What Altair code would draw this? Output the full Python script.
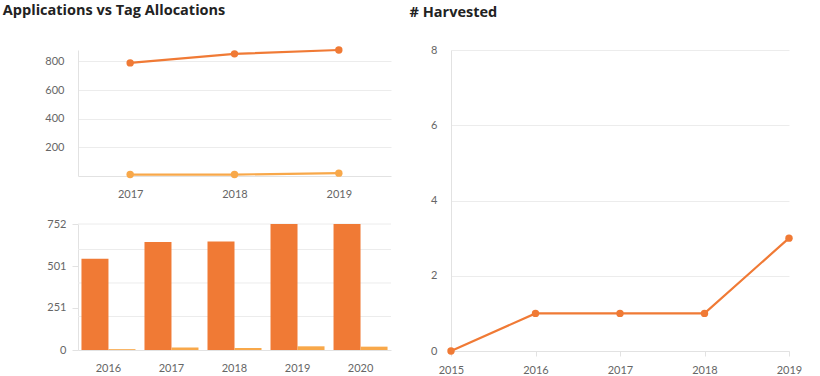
import altair as alt
import pandas as pd

DARK = "#F07A35"
LIGHT = "#F8A84A"
FONT = "Lato"
TITLE_FONT = "Open Sans"

# ---- data ----
series_names = ["Applications", "Tag Allocations"]

top_years = ["2017", "2018", "2019"]
top_applications = [790, 853, 880]
top_tags = [10, 10, 20]
top_ticks = [200, 400, 600, 800]

bar_years = ["2016", "2017", "2018", "2019", "2020"]
bar_applications = [545, 644, 648, 752, 752]
bar_tags = [5, 15, 12, 22, 20]
bar_ticks = [0, 251, 501, 752]
bar_grid = [200, 400, 600, 752]

harvest_years = ["2015", "2016", "2017", "2018", "2019"]
harvested = [0, 1, 1, 1, 3]
harvest_ticks = [0, 2, 4, 6, 8]

color = alt.Color(
    "series:N",
    scale=alt.Scale(domain=series_names, range=[DARK, LIGHT]),
    legend=None,
)

# ---- top-left: line chart ----
top_df = pd.DataFrame({
    "year": top_years * 2,
    "value": top_applications + top_tags,
    "series": [series_names[0]] * len(top_years) + [series_names[1]] * len(top_years),
})
top_base = alt.Chart(top_df).encode(
    x=alt.X("year:O", title=None,
            axis=alt.Axis(labelAngle=0, ticks=False, labelPadding=12)),
    y=alt.Y("value:Q", title=None,
            scale=alt.Scale(domain=[0, 880], nice=False, zero=True),
            axis=alt.Axis(values=top_ticks, ticks=False, labelPadding=14)),
    color=color,
    detail="series:N",
)
top_chart = alt.layer(
    top_base.mark_line(strokeWidth=2.2),
    top_base.mark_circle(size=55, opacity=1),
).properties(width=313, height=126)

# ---- bottom-left: grouped bars ----
bar_df = pd.DataFrame({
    "year": bar_years * 2,
    "value": bar_applications + bar_tags,
    "series": [series_names[0]] * len(bar_years) + [series_names[1]] * len(bar_years),
})
bar_y_axis = alt.Axis(values=bar_ticks, grid=False, ticks=True, tickSize=6,
                      labelPadding=6)
grid_df = pd.DataFrame({"value": bar_grid})
grid_layer = alt.Chart(grid_df).mark_rule(color="#ececec", strokeWidth=1).encode(
    y=alt.Y("value:Q", title=None, axis=bar_y_axis,
            scale=alt.Scale(domain=[0, 752], nice=False)),
)
bars = alt.Chart(bar_df).mark_bar().encode(
    x=alt.X("year:N", title=None,
            scale=alt.Scale(paddingInner=0.143, paddingOuter=0.055),
            axis=alt.Axis(labelAngle=0, ticks=False, labelPadding=12)),
    xOffset=alt.XOffset("series:N", scale=alt.Scale(domain=series_names)),
    y=alt.Y("value:Q", title=None,
            scale=alt.Scale(domain=[0, 752], nice=False),
            axis=bar_y_axis),
    color=color,
)
bottom_chart = alt.layer(grid_layer, bars).properties(width=313, height=126)

left = alt.vconcat(top_chart, bottom_chart, spacing=19).properties(
    title=alt.TitleParams("Applications vs Tag Allocations", anchor="start",
                          offset=27, dx=-42)
)

# ---- right: harvested ----
h_df = pd.DataFrame({"year": harvest_years, "value": harvested})
h_base = alt.Chart(h_df).encode(
    x=alt.X("year:O", title=None,
            scale=alt.Scale(type="point", padding=0),
            axis=alt.Axis(labelAngle=0, ticks=True, tickSize=5, labelPadding=8)),
    y=alt.Y("value:Q", title=None,
            scale=alt.Scale(domain=[0, 8], nice=False),
            axis=alt.Axis(values=harvest_ticks, ticks=False, labelPadding=14)),
)
right = alt.layer(
    h_base.mark_line(color=DARK, strokeWidth=2.2),
    h_base.mark_circle(color=DARK, size=55, opacity=1),
).properties(width=338, height=301,
             title=alt.TitleParams("# Harvested", anchor="start", offset=24, dx=-21))

chart = alt.hconcat(left, right, spacing=17).properties(
    padding={"left": 2, "top": 3, "right": 0, "bottom": 0},
    background="white",
).configure_view(stroke=None).configure_axis(
    labelFont=FONT, labelFontSize=11, labelColor="#666666",
    domainColor="#e2e2e2", gridColor="#ececec", tickColor="#e2e2e2",
).configure_title(
    font=TITLE_FONT, fontSize=14.5, fontWeight="bold", color="#222222",
)

chart.save("out.html", embed_options={"renderer": "svg", "actions": False})
